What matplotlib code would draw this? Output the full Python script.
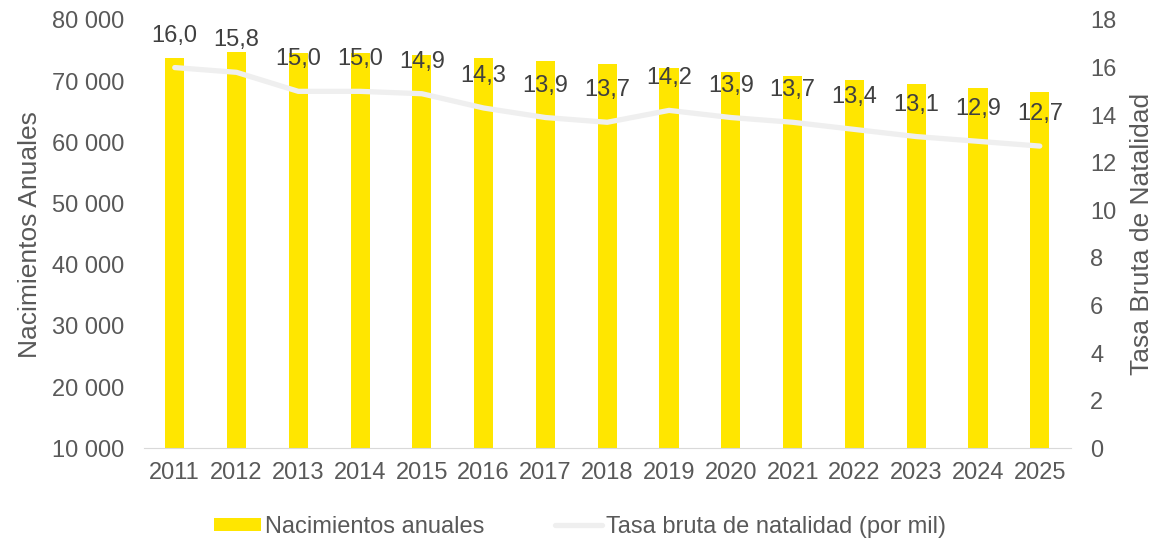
import matplotlib
matplotlib.use("Agg")
import matplotlib.pyplot as plt
from matplotlib.ticker import FuncFormatter
from matplotlib.patches import Patch
from matplotlib.lines import Line2D

plt.rcParams['font.family'] = ['Liberation Sans', 'DejaVu Sans']

years = ["2011", "2012", "2013", "2014", "2015", "2016", "2017", "2018",
         "2019", "2020", "2021", "2022", "2023", "2024", "2025"]
births = [73770, 74800, 74650, 74540, 74260, 73770, 73330, 72790,
          72130, 71520, 70870, 70160, 69510, 68850, 68200]
rate = [16.0, 15.8, 15.0, 15.0, 14.9, 14.3, 13.9, 13.7,
        14.2, 13.9, 13.7, 13.4, 13.1, 12.9, 12.7]

YELLOW = "#FFE600"
LINE = "#EFEFEF"
TICK = "#595959"
LABEL = "#404040"
FS = 17

fig = plt.figure(figsize=(11.6, 5.4), dpi=100)
ax = fig.add_axes([0.124, 0.170, 0.799, 0.793])
ax2 = ax.twinx()

x = list(range(len(years)))
ax.bar(x, births, width=0.31, color=YELLOW, zorder=2)
ax.set_ylim(10000, 80000)
ax.set_xlim(-0.5, len(years) - 0.5)
ax.set_yticks(range(10000, 80001, 10000))
ax.yaxis.set_major_formatter(FuncFormatter(lambda v, p: f"{int(v):,}".replace(",", " ")))
ax.set_xticks(x)
ax.set_xticklabels(years)
ax.tick_params(axis='both', length=0, labelsize=FS, colors=TICK)
ax.tick_params(axis='y', pad=14)
ax.tick_params(axis='x', pad=10)
ax.set_ylabel("Nacimientos Anuales", fontsize=19, color=TICK, labelpad=7)

ax2.plot(x, rate, color=LINE, lw=3.8, solid_capstyle='round', solid_joinstyle='round', zorder=3)
ax2.set_ylim(0, 18)
ax2.set_yticks(range(0, 19, 2))
ax2.tick_params(axis='y', length=0, labelsize=FS, colors=TICK, pad=14)
ax2.set_ylabel("Tasa Bruta de Natalidad", fontsize=19, color=TICK, labelpad=10)

for xi, r in zip(x, rate):
    ax2.annotate(f"{r:.1f}".replace(".", ","), (xi, r), xytext=(0, 23),
                 textcoords='offset points', ha='center', va='center',
                 fontsize=FS, color=LABEL, zorder=4)

for a in (ax, ax2):
    for s in ('top', 'left', 'right'):
        a.spines[s].set_visible(False)
ax.spines['bottom'].set_color("#D9D9D9")
ax2.spines['bottom'].set_visible(False)

handles = [Patch(facecolor=YELLOW, edgecolor='none'),
           Line2D([], [], color=LINE, lw=3.8, solid_capstyle='round')]
fig.legend(handles, ["Nacimientos anuales", "Tasa bruta de natalidad (por mil)"],
           loc='lower center', bbox_to_anchor=(0.5, -0.035), ncol=2, frameon=False,
           fontsize=FS, labelcolor=TICK, handlelength=2.0, handleheight=0.5,
           handletextpad=0.15, columnspacing=3.0)

fig.savefig("out.png", dpi=100, facecolor="white")
